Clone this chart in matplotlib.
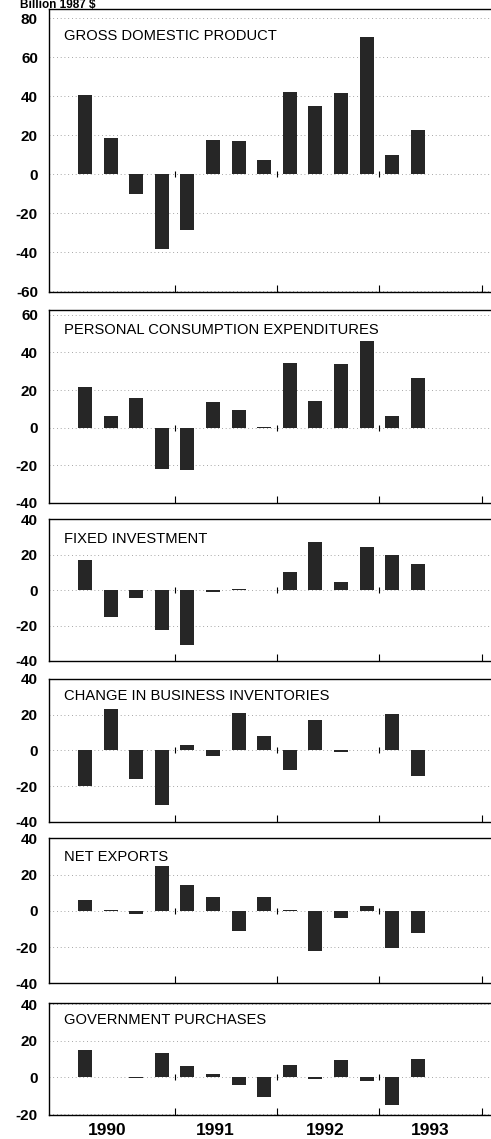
import numpy as np
import matplotlib.pyplot as plt

# quarterly change, billion 1987 $, 1990Q1 .. 1993Q2
quarters = np.arange(14)
years = ['1990', '1991', '1992', '1993']
year_label_pos = [0.85, 5.1, 9.4, 13.5]
year_breaks = [3.5, 7.5, 11.5, 15.5]

gdp = [40.5, 18.6, -10, -38.6, -28.9, 17.7, 17.2, 7.3, 42.3, 34.7, 41.5, 70.3, 9.8, 22.7]
pce = [21.4, 6.4, 16, -22.3, -22.6, 13.4, 9.6, 0.3, 34.4, 13.9, 33.6, 46.1, 6.4, 26.6]
fixed_inv = [16.8, -14.9, -4.7, -22.3, -30.7, -1, 0.5, 0.2, 10.2, 27, 4.7, 24.2, 19.9, 14.5]
inventories = [-19.8, 23.3, -16.1, -30.8, 2.8, -3.3, 20.9, 8.1, -11, 17.2, -1, 0.2, 20.6, -14.3]
net_exports = [6, 0.5, -1.5, 24.5, 14.5, 7.8, -11.3, 7.8, 0.5, -22.2, -4, 2.9, -20.4, -12.5]
gov_purchases = [15.1, 0.3, -0.5, 13.3, 6.4, 2, -4, -10.7, 6.9, -1, 9.3, -2.2, -14.9, 10]

titles = ["GROSS DOMESTIC PRODUCT", "PERSONAL CONSUMPTION EXPENDITURES",
          "FIXED INVESTMENT", "CHANGE IN BUSINESS INVENTORIES",
          "NET EXPORTS", "GOVERNMENT PURCHASES"]
series = [gdp, pce, fixed_inv, inventories, net_exports, gov_purchases]
yticks = [np.arange(-60, 81, 20), np.arange(-40, 61, 20), np.arange(-40, 41, 20),
          np.arange(-40, 41, 20), np.arange(-40, 41, 20), np.arange(-20, 41, 20)]
ylims = [(-60.3, 84.5), (-40.3, 62.6), (-40, 40), (-40, 40), (-40, 40), (-20.5, 40.5)]
# panel top/bottom in pixels
boxes = [(9.3, 291.7), (310, 503.3), (519.3, 661), (679, 821.7), (838.3, 983.3), (1003.3, 1115)]
title_drop = [20, 13, 13, 10, 12, 10]

W, H = 491, 1139
fig = plt.figure(figsize=(W / 100, H / 100), dpi=100)
fig.text(20 / W, 1 - 8 / H, "Billion 1987 $", fontsize=8.5, fontweight='bold',
         family='Liberation Sans', va='baseline', ha='left')

bar_color = '#262626'
left, right = 49, 491
for i, (title, vals) in enumerate(zip(titles, series)):
    top, bot = boxes[i]
    ax = fig.add_axes([left / W, 1 - bot / H, (right - left) / W, (bot - top) / H])
    ax.bar(quarters, vals, width=0.55, color=bar_color, zorder=3)
    ax.set_xlim(-1.41, 15.86)
    ax.set_ylim(*ylims[i])
    ax.set_yticks(yticks[i])
    ax.set_yticklabels([str(v) for v in yticks[i]], fontsize=11, fontweight='bold',
                       family='Liberation Sans')
    ax.tick_params(axis='y', length=0, pad=8)
    ax.set_xticks(year_breaks)
    ax.tick_params(axis='x', direction='in', length=5, width=0.8, labelbottom=False)
    for g in yticks[i]:
        if ylims[i][0] < g < ylims[i][1]:
            ax.axhline(g, color='#888888', lw=0.6, ls=(0, (1, 3.5)), zorder=1)
    ax.plot(year_breaks[:3], [0] * 3, ls='none', marker='|', ms=5, mew=0.8,
            color='black', zorder=2)
    ax.spines['right'].set_visible(False)
    for s in ['left', 'top', 'bottom']:
        ax.spines[s].set_linewidth(1)
    ax.annotate(title, xy=(0, 1), xycoords='axes fraction',
                xytext=(15 * 0.72, -title_drop[i] * 0.72), textcoords='offset points',
                ha='left', va='top', fontsize=10.6, family='Liberation Sans')
    if i == len(titles) - 1:
        ax.set_xticks(year_label_pos, minor=True)
        ax.set_xticklabels(years, minor=True, fontsize=12.5, fontweight='bold',
                           family='Liberation Sans')
        ax.tick_params(axis='x', which='minor', length=0, pad=6)

fig.savefig('out.png', dpi=100)
